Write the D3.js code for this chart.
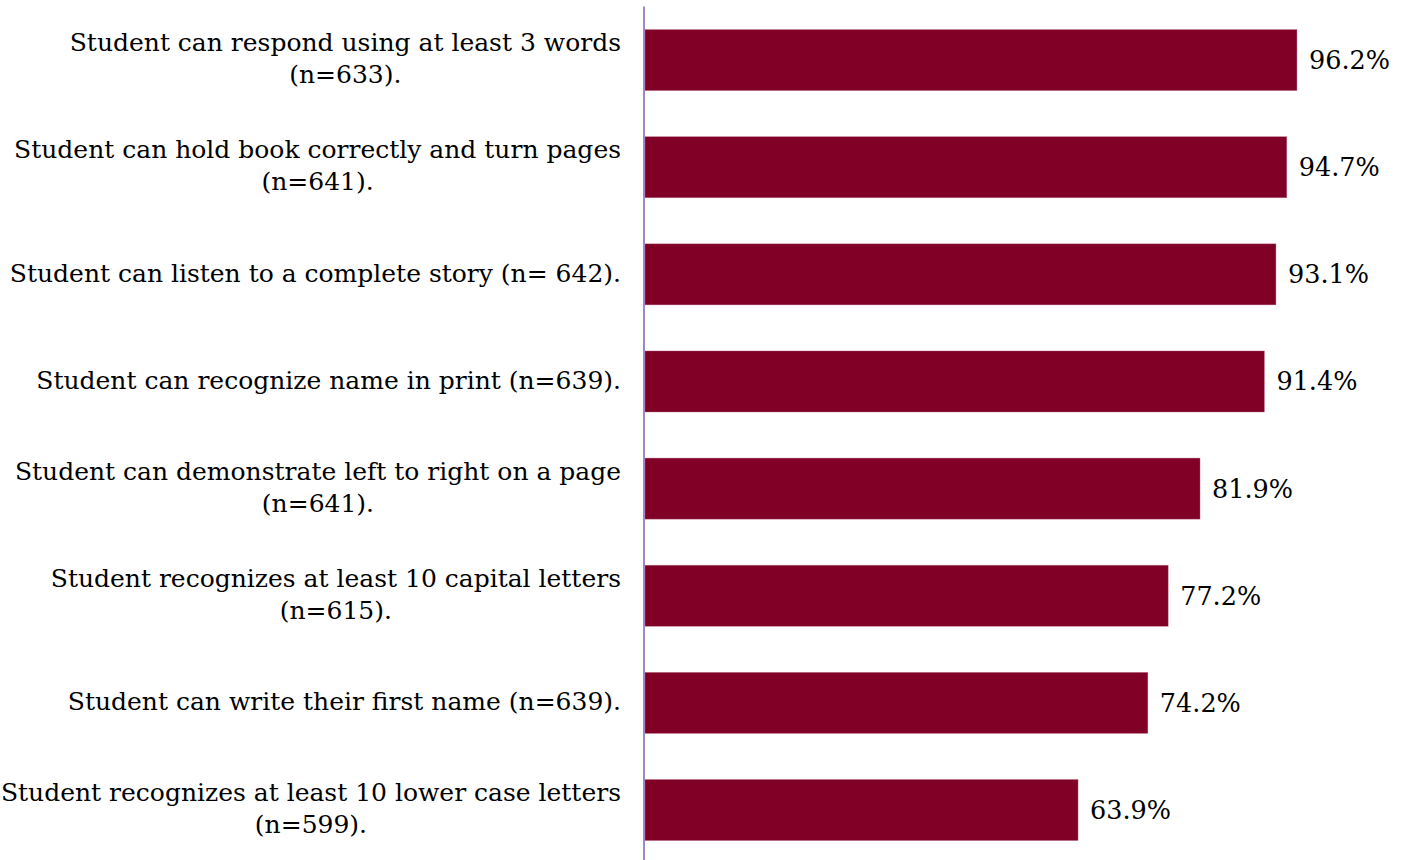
<!DOCTYPE html>
<html>
<head>
<meta charset="utf-8">
<script src="https://cdn.jsdelivr.net/npm/d3@7"></script>
<style>
  html, body { margin: 0; padding: 0; background: #fff; }
  svg { display: block; }
</style>
</head>
<body>
<svg id="chart" width="1408" height="860"></svg>
<script>
const categories = [
  ["Student can respond using at least 3 words", "(n=633)."],
  ["Student can hold book correctly and turn pages", "(n=641)."],
  ["Student can listen to a complete story (n= 642)."],
  ["Student can recognize name in print (n=639)."],
  ["Student can demonstrate left to right on a page", "(n=641)."],
  ["Student recognizes at least 10 capital letters", "(n=615)."],
  ["Student can write their first name (n=639)."],
  ["Student recognizes at least 10 lower case letters", "(n=599)."]
];
const values = [96.2, 94.7, 93.1, 91.4, 81.9, 77.2, 74.2, 63.9];
const valueLabels = ["96.2%", "94.7%", "93.1%", "91.4%", "81.9%", "77.2%", "74.2%", "63.9%"];

const svg = d3.select("#chart");
const font = "'DejaVu Serif', 'Liberation Serif', serif";
const fontSize = 25;
const valueFontSize = 25.5;
const lineH = 32;

const x = d3.scaleLinear().domain([0, 100]).range([645, 1322.7]);
const y = d3.scaleBand()
  .domain(d3.range(categories.length))
  .range([6.5, 863.6])
  .paddingInner(0.43)
  .paddingOuter(0.215);

// bars
svg.append("g").selectAll("rect")
  .data(values)
  .join("rect")
  .attr("x", x(0))
  .attr("y", (d, i) => y(i))
  .attr("width", d => x(d) - x(0))
  .attr("height", y.bandwidth())
  .attr("fill", "#800026")
  .attr("stroke", "#c07090")
  .attr("stroke-width", 0.6)
  .attr("stroke-opacity", 0.6);

// value labels
svg.append("g").selectAll("text")
  .data(values)
  .join("text")
  .attr("x", d => x(d) + 12)
  .attr("y", (d, i) => y(i) + y.bandwidth() / 2)
  .attr("dy", "0.35em")
  .attr("font-family", font)
  .attr("font-size", valueFontSize)
  .attr("fill", "#000")
  .text((d, i) => valueLabels[i]);

// category labels
const lab = svg.append("g").selectAll("text")
  .data(categories)
  .join("text")
  .attr("font-family", font)
  .attr("font-size", fontSize)
  .attr("fill", "#000")
  .attr("text-anchor", "middle");

lab.each(function(lines, i) {
  const t = d3.select(this);
  const cy = y(i) + y.bandwidth() / 2 - 1.5;
  const n = lines.length;
  lines.forEach((ln, k) => {
    t.append("tspan")
      .attr("y", cy + (k - (n - 1) / 2) * lineH)
      .attr("dy", "0.35em")
      .text(ln);
  });
  const tsp = t.selectAll("tspan").nodes();
  const widths = tsp.map(s => s.getComputedTextLength());
  const maxW = d3.max(widths);
  const right = 621;
  const center = right - maxW / 2;
  tsp.forEach((s) => d3.select(s).attr("x", center));
});

// axis line
svg.append("line")
  .attr("x1", 644).attr("x2", 644)
  .attr("y1", 6.5).attr("y2", 860)
  .attr("stroke", "#8c6bb1")
  .attr("stroke-width", 1.6);
</script>
</body>
</html>
